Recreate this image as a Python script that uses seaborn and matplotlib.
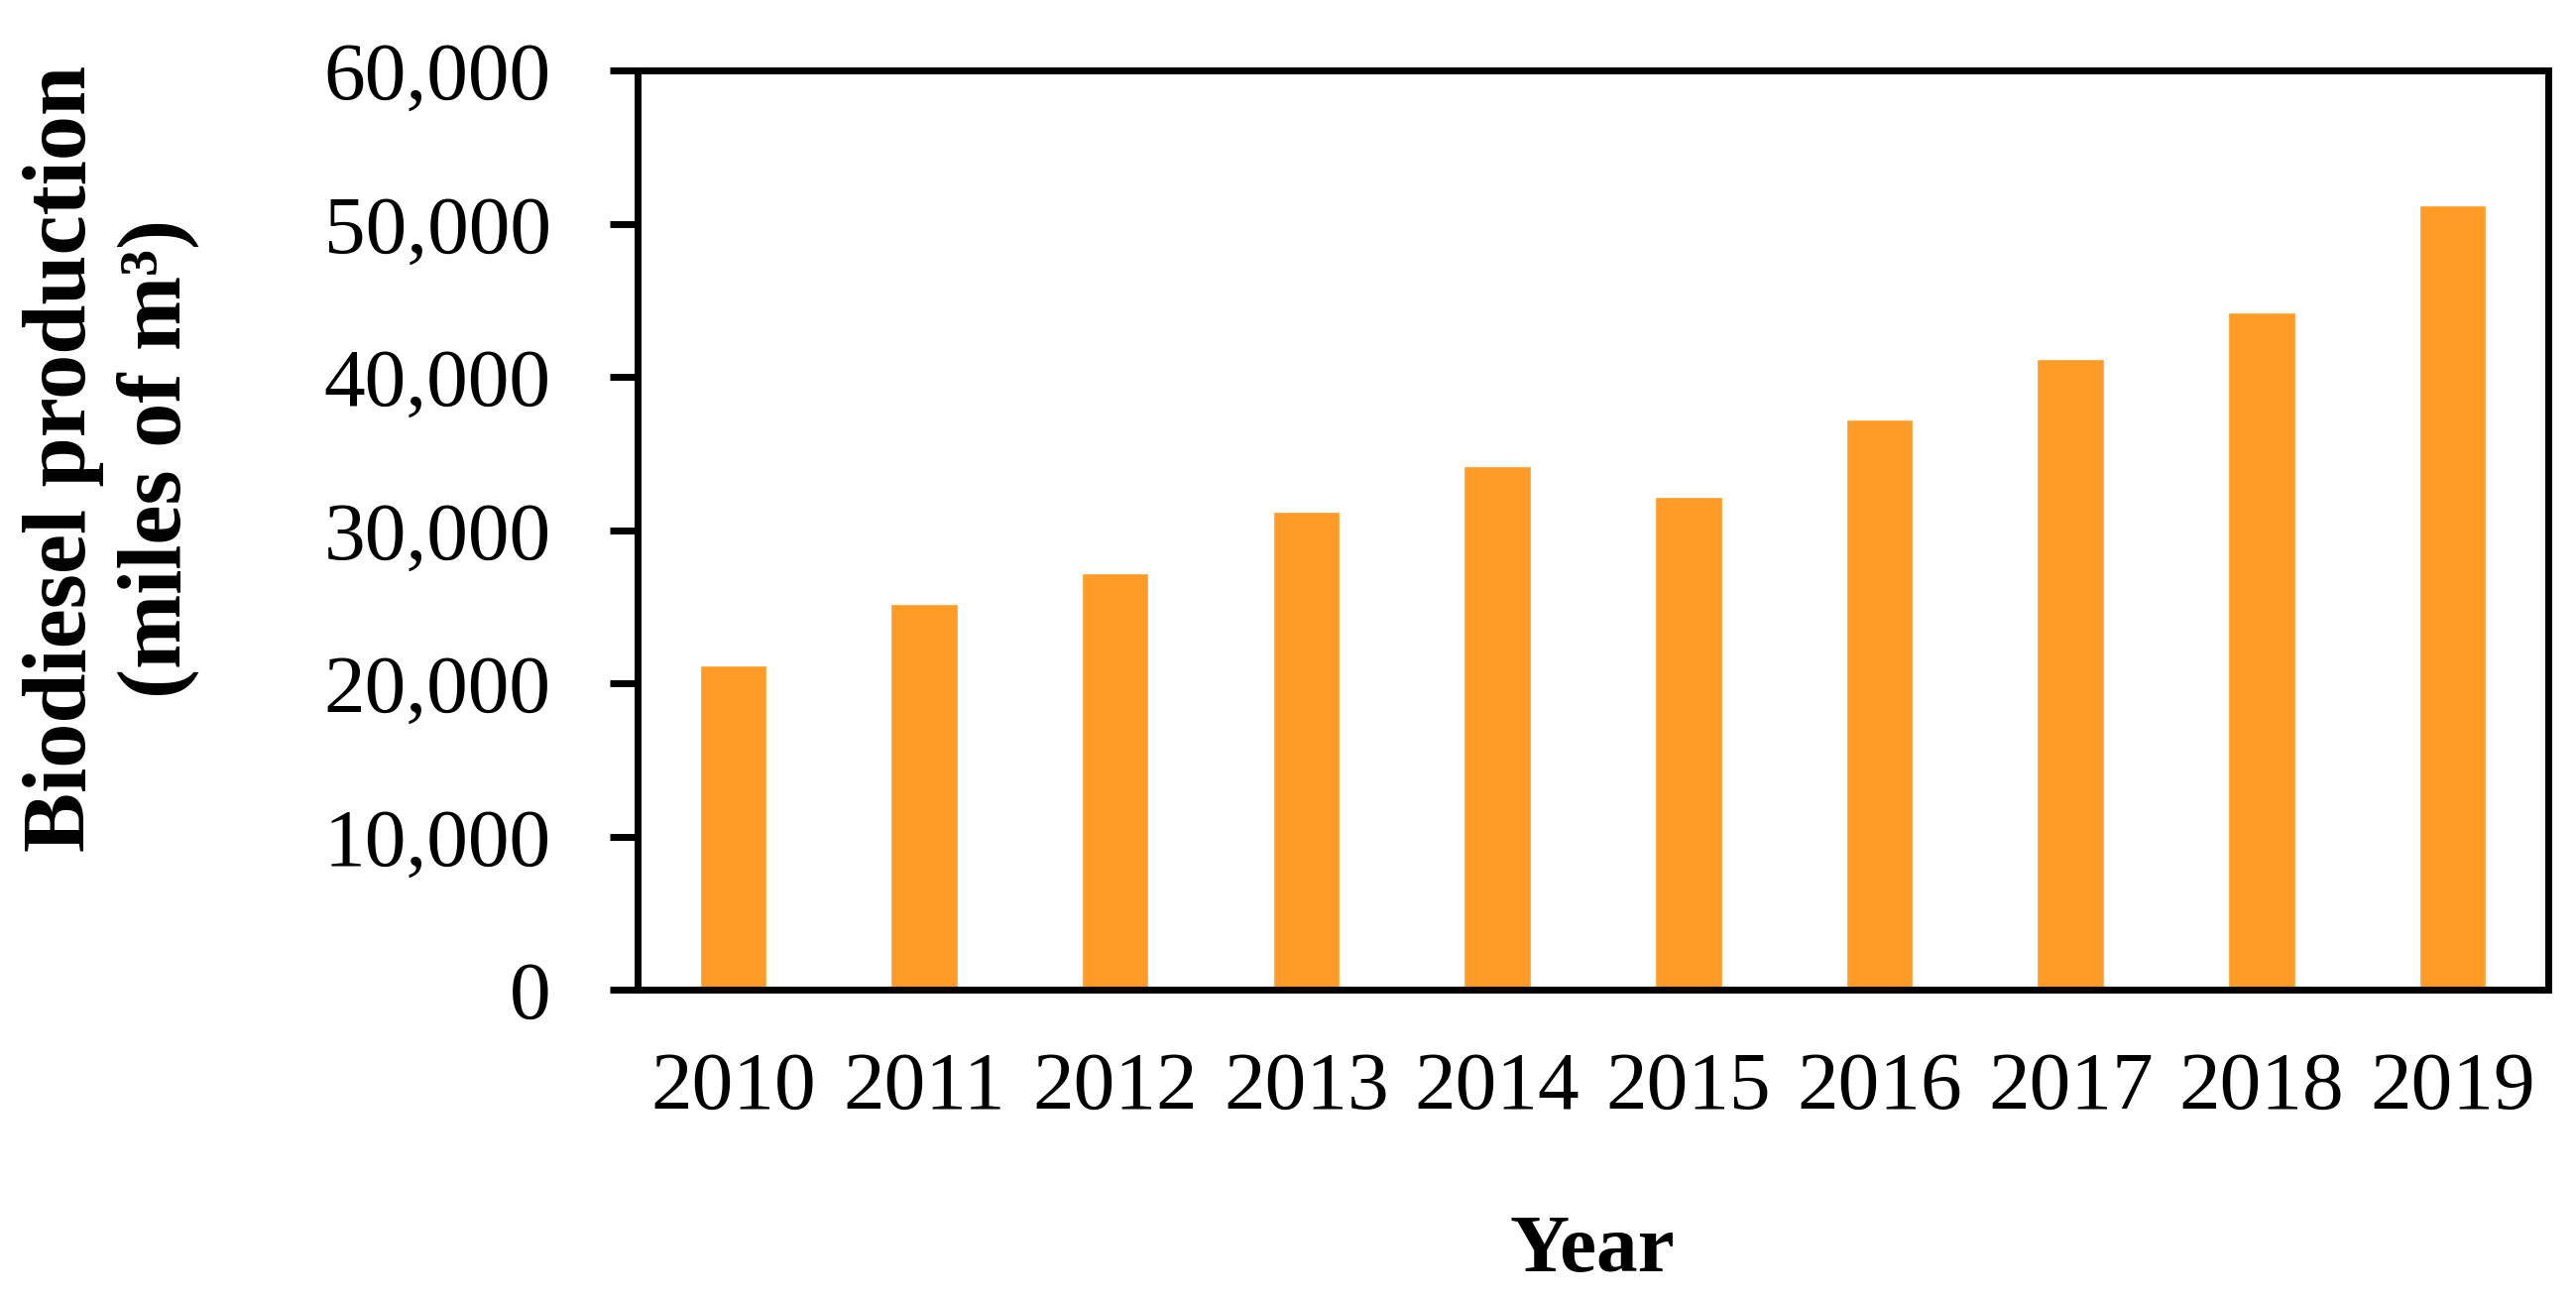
import matplotlib
matplotlib.use("Agg")
import matplotlib.pyplot as plt
from matplotlib.ticker import FuncFormatter
import seaborn as sns
import pandas as pd

years = ["2010", "2011", "2012", "2013", "2014", "2015", "2016", "2017", "2018", "2019"]
production = [21200, 25200, 27200, 31200, 34200, 32200, 37200, 41200, 44200, 51200]
yticks = [0, 10000, 20000, 30000, 40000, 50000, 60000]

sns.set_theme(style="white")
plt.rcParams["font.family"] = ["Liberation Serif", "DejaVu Serif"]

df = pd.DataFrame({"Year": years, "Production": production})

fig = plt.figure(figsize=(25.98, 13.11), dpi=100)
ax = fig.add_axes([0.2475, 0.2387, 0.7417, 0.7071])

sns.barplot(data=df, x="Year", y="Production", color="#FF9B26", saturation=1,
            width=0.35, ax=ax)

ax.set_xlim(-0.5, 9.5)
ax.set_ylim(0, 60000)
ax.set_yticks(yticks)
ax.yaxis.set_major_formatter(FuncFormatter(lambda v, p: f"{v:,.0f}"))

for side in ["top", "bottom", "left", "right"]:
    ax.spines[side].set_visible(True)
    ax.spines[side].set_color("black")
    ax.spines[side].set_linewidth(5.0)

ax.tick_params(axis="y", which="major", direction="out", length=20, width=5.0,
               color="black", labelsize=60, pad=43, left=True)
ax.tick_params(axis="x", which="major", length=0, labelsize=60, pad=45)
for lab in ax.get_xticklabels() + ax.get_yticklabels():
    lab.set_color("black")

ax.set_xlabel("")
ax.set_ylabel("")

fig.text(1606 / 2598, 1 - 1282 / 1311, "Year", ha="center", va="baseline",
         fontsize=60, fontweight="bold", color="black")
fig.text(112 / 2598, 1 - 462 / 1311, "Biodiesel production\n(miles of m³)",
         rotation=90, ha="center", va="center", multialignment="center",
         fontsize=65, fontweight="bold", color="black", linespacing=1.2)

fig.savefig("out.png", dpi=100, facecolor="white")
